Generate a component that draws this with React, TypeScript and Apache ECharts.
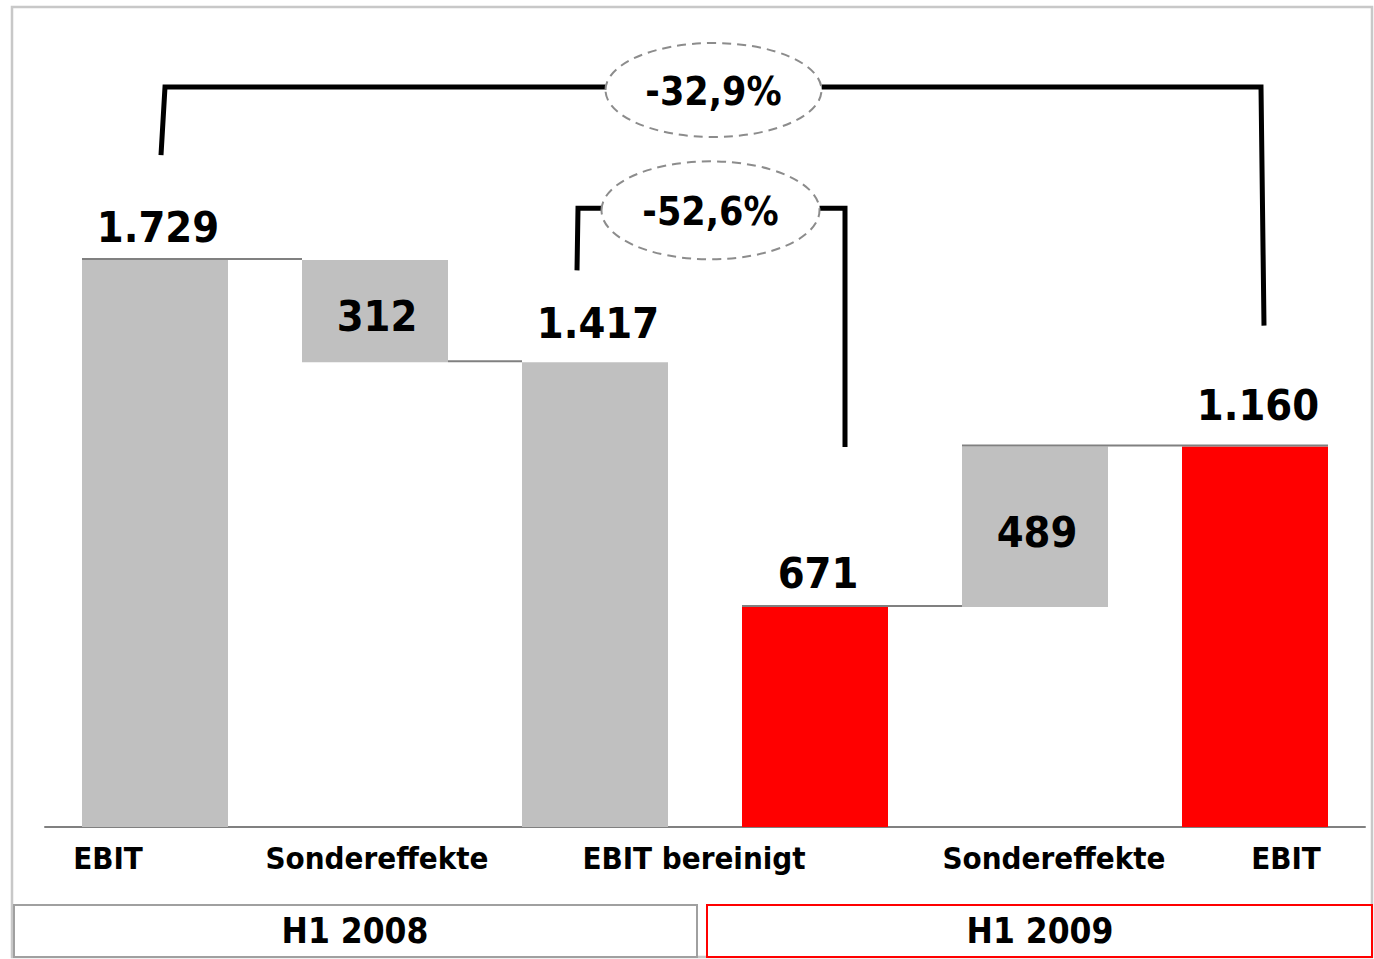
import React, { useEffect, useRef } from "react";
import * as echarts from "echarts";

const categories = ["EBIT", "Sondereffekte", "EBIT bereinigt", "", "Sondereffekte", "EBIT"];
const barValues = [1729, 312, 1417, 671, 489, 1160];
const barBases = [0, 1417, 0, 0, 671, 0];
const valueLabels = ["1.729", "312", "1.417", "671", "489", "1.160"];
const labelInside = [false, true, false, false, true, false];
const barColors = ["#c0c0c0", "#c0c0c0", "#c0c0c0", "#ff0000", "#c0c0c0", "#ff0000"];
const periodLabels = ["H1 2008", "H1 2009"];
const changeLabels = ["-32,9%", "-52,6%"];

// connector lines between bars: [fromCat, toCat, level]
const connectorFrom = [0, 1, 3, 4];
const connectorTo = [1, 2, 4, 5];
const connectorLevel = [1729, 1417, 671, 1160];

// brackets: left bar, right bar
const bracketLeft = [0, 2];
const bracketRight = [5, 3];

const FONT = "'Liberation Sans Narrow', 'DejaVu Sans Condensed', 'Open Sans', sans-serif";
const BAR_W = 146;

// per-bracket layout (pixels relative to bars)
const bracketLayout = [
  { lx: 6, lxTop: 10, lBottom: 105, top: 173, rx: 6, rxBottom: 9, rBottom: 121, ex: 8.5, erx: 108, ery: 47, ey: 3 },
  { lx: -18, lxTop: -17, lBottom: 92, top: 154, rx: 30, rxBottom: 30, rBottom: 160, ex: 5.5, erx: 109, ery: 49, ey: 2 },
];

// label shifts (px) relative to category center
const labelShift = [-47, 2, 99, 0, 19, 31];
// value label gap above bars (px)
const labelGap = [12, 0, 18, 12, 0, 20];

export default function App() {
  const ref = useRef<HTMLDivElement>(null);
  useEffect(() => {
    if (!ref.current) return;
    const chart = echarts.init(ref.current, undefined, { renderer: "svg" });

    const rich: any = {};
    labelShift.forEach((s, i) => {
      rich["l" + i] = {
        fontFamily: FONT,
        fontWeight: "bold",
        fontSize: 31,
        color: "#000",
        padding: s >= 0 ? [0, 0, 0, 2 * s] : [0, -2 * s, 0, 0],
      };
    });

    const option: any = {
      animation: false,
      grid: { left: 45, right: 9, top: 40, bottom: 132 },
      xAxis: {
        type: "category",
        data: categories,
        axisLine: { lineStyle: { color: "#808080", width: 2 } },
        axisTick: { show: false },
        axisLabel: {
          interval: 0,
          margin: 15,
          formatter: (v: string, i: number) => (v ? `{l${i}|${v}}` : ""),
          rich,
        },
      },
      yAxis: { type: "value", min: 0, max: 2400, show: false, splitLine: { show: false } },
      series: [
        {
          type: "bar",
          stack: "wf",
          barWidth: BAR_W,
          silent: true,
          itemStyle: { color: "transparent" },
          data: barBases,
        },
        {
          type: "bar",
          stack: "wf",
          barWidth: BAR_W,
          silent: true,
          data: barValues.map((v, i) => ({
            value: v,
            itemStyle: { color: barColors[i] },
            label: {
              show: true,
              position: labelInside[i] ? "inside" : "top",
              distance: labelGap[i],
              offset: labelInside[i] ? [2, 5] : [3, 0],
              formatter: () => valueLabels[i],
              fontFamily: FONT,
              fontWeight: "bold",
              fontSize: 43,
              color: "#000",
            },
          })),
        },
        {
          type: "custom",
          silent: true,
          clip: false,
          z: 5,
          data: connectorFrom.map((f, i) => [f, connectorLevel[i]]),
          encode: { x: 0, y: 1 },
          renderItem: (params: any, api: any) => {
            const i = params.dataIndex;
            const p1 = api.coord([connectorFrom[i], connectorLevel[i]]);
            const p2 = api.coord([connectorTo[i], connectorLevel[i]]);
            const fromSide = i === 1 ? 1 : -1;
            const toSide = i === 3 ? 1 : -1;
            return {
              type: "line",
              shape: {
                x1: p1[0] + (fromSide * BAR_W) / 2,
                y1: p1[1] - 1,
                x2: p2[0] + (toSide * BAR_W) / 2,
                y2: p2[1] - 1,
              },
              style: { stroke: "#808080", lineWidth: 2 },
            };
          },
        },
        {
          type: "custom",
          silent: true,
          clip: false,
          z: 6,
          data: bracketLeft.map((l, i) => [l, barBases[l] + barValues[l]]),
          encode: { x: 0, y: 1 },
          renderItem: (params: any, api: any) => {
            const i = params.dataIndex;
            const L = bracketLeft[i];
            const R = bracketRight[i];
            const b = bracketLayout[i];
            const pl = api.coord([L, barBases[L] + barValues[L]]);
            const pr = api.coord([R, barBases[R] + barValues[R]]);
            const m2 = api.coord([2, 0]);
            const m3 = api.coord([3, 0]);
            const topY = pl[1] - b.top;
            const ex = (m2[0] + m3[0]) / 2 + b.ex;
            const ey = topY + b.ey;
            return {
              type: "group",
              children: [
                {
                  type: "polyline",
                  shape: {
                    points: [
                      [pl[0] + b.lx, pl[1] - b.lBottom],
                      [pl[0] + b.lxTop, topY],
                      [ex - b.erx, topY],
                    ],
                  },
                  style: { stroke: "#000", lineWidth: 5, fill: null, lineJoin: "miter" },
                },
                {
                  type: "polyline",
                  shape: {
                    points: [
                      [ex + b.erx, topY],
                      [pr[0] + b.rx, topY],
                      [pr[0] + b.rxBottom, pr[1] - b.rBottom],
                    ],
                  },
                  style: { stroke: "#000", lineWidth: 5, fill: null, lineJoin: "miter" },
                },
                {
                  type: "ellipse",
                  shape: { cx: ex, cy: ey, rx: b.erx, ry: b.ery },
                  style: { stroke: "#8c8c8c", lineWidth: 2, lineDash: [9, 6], fill: "#fff" },
                },
                {
                  type: "text",
                  style: {
                    text: changeLabels[i],
                    x: ex,
                    y: ey + 1,
                    align: "center",
                    verticalAlign: "middle",
                    fontFamily: FONT,
                    fontWeight: "bold",
                    fontSize: 39,
                    fill: "#000",
                  },
                },
              ],
            };
          },
        },
      ],
      graphic: [
        {
          type: "rect",
          shape: { x: 12, y: 7, width: 1360, height: 950 },
          style: { fill: "none", stroke: "#c8c8c8", lineWidth: 2.5 },
          silent: true,
          z: -1,
        },
        {
          type: "rect",
          shape: { x: 14, y: 905, width: 683, height: 52 },
          style: { fill: "#fff", stroke: "#a0a0a0", lineWidth: 2 },
          silent: true,
        },
        {
          type: "rect",
          shape: { x: 707, y: 905, width: 665, height: 52 },
          style: { fill: "#fff", stroke: "#ff0000", lineWidth: 2 },
          silent: true,
        },
        {
          type: "text",
          x: 355,
          y: 931,
          style: {
            text: periodLabels[0],
            align: "center",
            verticalAlign: "middle",
            fontFamily: FONT,
            fontWeight: "bold",
            fontSize: 35,
            fill: "#000",
          },
          silent: true,
        },
        {
          type: "text",
          x: 1040,
          y: 931,
          style: {
            text: periodLabels[1],
            align: "center",
            verticalAlign: "middle",
            fontFamily: FONT,
            fontWeight: "bold",
            fontSize: 35,
            fill: "#000",
          },
          silent: true,
        },
      ],
    };
    chart.setOption(option);
    return () => chart.dispose();
  }, []);

  return (
    <div
      ref={ref}
      style={{ position: "absolute", left: 0, top: 0, width: 1374, height: 959, background: "#fff" }}
    />
  );
}
